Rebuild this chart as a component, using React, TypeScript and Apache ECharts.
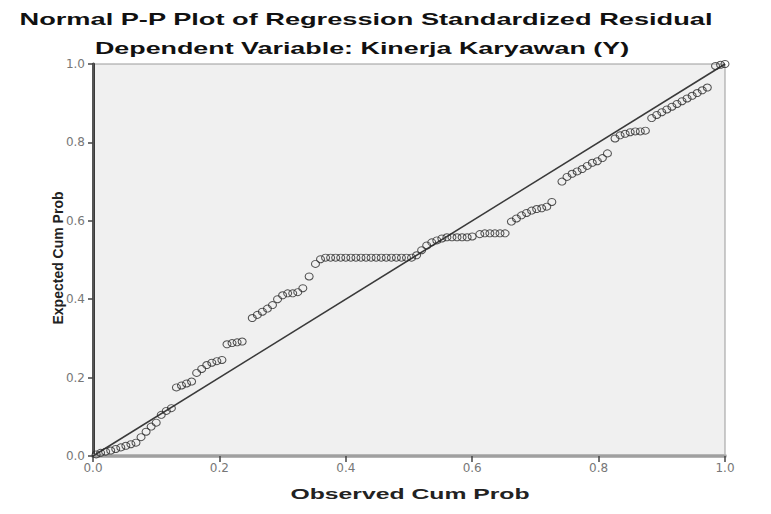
import React, { useEffect, useRef } from "react";
import * as echarts from "echarts";

const titleText = "Normal P-P Plot of Regression Standardized Residual";
const subtitleText = "Dependent Variable: Kinerja Karyawan (Y)";
const xAxisName = "Observed Cum Prob";
const yAxisName = "Expected Cum Prob";

const observedCumProb = [
  0.005, 0.012, 0.02, 0.028, 0.036, 0.044, 0.052, 0.06, 0.068,
  0.076, 0.084, 0.092, 0.1,
  0.108, 0.116, 0.124,
  0.132, 0.14, 0.148, 0.156,
  0.164, 0.172, 0.18, 0.188, 0.196, 0.204,
  0.212, 0.22, 0.228, 0.236,
  0.252, 0.26, 0.268, 0.276, 0.284,
  0.292, 0.3, 0.308, 0.316, 0.324, 0.332,
  0.342, 0.352, 0.36,
  0.368, 0.376, 0.384, 0.392, 0.4, 0.408, 0.416, 0.424, 0.432, 0.44, 0.448, 0.456, 0.464, 0.472, 0.48, 0.488, 0.496, 0.504,
  0.512, 0.52, 0.528, 0.536, 0.544, 0.552, 0.56, 0.568, 0.576, 0.584, 0.592, 0.6,
  0.612, 0.62, 0.628, 0.636, 0.644, 0.652,
  0.662, 0.67, 0.678, 0.686, 0.694, 0.702, 0.71, 0.718, 0.726,
  0.742, 0.75, 0.758, 0.766, 0.774, 0.782, 0.79, 0.798, 0.806, 0.814,
  0.826, 0.834, 0.842, 0.85, 0.858, 0.866, 0.874,
  0.884, 0.892, 0.9, 0.908, 0.916, 0.924, 0.932, 0.94, 0.948, 0.956, 0.964, 0.972,
  0.985, 0.993, 1.0,
];

const expectedCumProb = [
  0.004, 0.008, 0.011, 0.014, 0.018, 0.022, 0.026, 0.03, 0.034,
  0.048, 0.062, 0.075, 0.085,
  0.105, 0.115, 0.122,
  0.175, 0.18, 0.185, 0.19,
  0.212, 0.222, 0.232, 0.238, 0.242, 0.245,
  0.285, 0.288, 0.29, 0.292,
  0.352, 0.36, 0.368, 0.376, 0.385,
  0.4, 0.41, 0.415, 0.415, 0.418, 0.428,
  0.458, 0.49, 0.502,
  0.506, 0.506, 0.506, 0.506, 0.506, 0.506, 0.506, 0.506, 0.506, 0.506, 0.506, 0.506, 0.506, 0.506, 0.506, 0.506, 0.506, 0.506,
  0.512, 0.525, 0.537, 0.545, 0.55, 0.555, 0.558, 0.558, 0.558, 0.558, 0.558, 0.56,
  0.566, 0.568, 0.568, 0.568, 0.568, 0.568,
  0.598, 0.606, 0.614, 0.62, 0.626, 0.63, 0.632, 0.636, 0.648,
  0.7, 0.712, 0.72, 0.726, 0.732, 0.74, 0.748, 0.752, 0.76, 0.772,
  0.81, 0.818, 0.822, 0.826, 0.828, 0.828, 0.83,
  0.862, 0.87, 0.877, 0.884, 0.891, 0.898, 0.905, 0.912, 0.919, 0.926, 0.933, 0.94,
  0.995, 0.998, 1.0,
];

const referenceLine = [
  [0, 0],
  [1, 1],
];

export default function App() {
  const ref = useRef<HTMLDivElement>(null);

  useEffect(() => {
    if (!ref.current) return;
    const chart = echarts.init(ref.current, undefined, { renderer: "svg" });
    const points = observedCumProb.map((x, i) => [x, expectedCumProb[i]]);
    const font = '"Liberation Sans", Arial, sans-serif';
    chart.setOption({
      animation: false,
      backgroundColor: "#ffffff",
      grid: {
        left: 93,
        right: 46,
        top: 64,
        bottom: 58,
        show: true,
        backgroundColor: "#f0f0f0",
        borderColor: "#9a9a9a",
        borderWidth: 1,
      },
      graphic: [
        {
          type: "text",
          x: 366,
          y: 19,
          scaleX: 1.6,
          style: {
            text: titleText,
            font: `bold 17px ${font}`,
            fill: "#111",
            textAlign: "center",
            textVerticalAlign: "middle",
          },
        },
        {
          type: "text",
          x: 362,
          y: 48,
          scaleX: 1.58,
          style: {
            text: subtitleText,
            font: `bold 17px ${font}`,
            fill: "#111",
            textAlign: "center",
            textVerticalAlign: "middle",
          },
        },
        {
          type: "text",
          x: 410,
          y: 494,
          scaleX: 1.65,
          style: {
            text: xAxisName,
            font: `bold 15px ${font}`,
            fill: "#222",
            textAlign: "center",
            textVerticalAlign: "middle",
          },
        },
        {
          type: "text",
          x: 58,
          y: 258,
          rotation: Math.PI / 2,
          style: {
            text: yAxisName,
            font: `bold 14px ${font}`,
            fill: "#222",
            textAlign: "center",
            textVerticalAlign: "middle",
          },
        },
      ],
      xAxis: [
        {
          type: "value",
          min: 0,
          max: 1,
          interval: 0.2,
          position: "bottom",
          axisLine: { show: true, lineStyle: { color: "#b5b5b5", width: 4 } },
          axisTick: { show: true, length: 6, lineStyle: { color: "#444", width: 1.5 } },
          axisLabel: {
            color: "#777",
            fontSize: 12,
            fontFamily: "DejaVu Sans",
            margin: 6,
            formatter: (v: number) => v.toFixed(1),
          },
          splitLine: { show: false },
        },
        {
          type: "value",
          min: 0,
          max: 1,
          position: "top",
          axisLine: { show: true, lineStyle: { color: "#a0a0a0", width: 2 } },
          axisTick: { show: false },
          axisLabel: { show: false },
          splitLine: { show: false },
        },
      ],
      yAxis: [
        {
          type: "value",
          min: 0,
          max: 1,
          interval: 0.2,
          position: "left",
          axisLine: { show: true, lineStyle: { color: "#3a3a3a", width: 3 } },
          axisTick: { show: true, length: 5, lineStyle: { color: "#444", width: 1.5 } },
          axisLabel: {
            color: "#777",
            fontSize: 12,
            fontFamily: "DejaVu Sans",
            margin: 8,
            formatter: (v: number) => v.toFixed(1),
          },
          splitLine: { show: false },
        },
        {
          type: "value",
          min: 0,
          max: 1,
          position: "right",
          axisLine: { show: true, lineStyle: { color: "#555", width: 2 } },
          axisTick: { show: false },
          axisLabel: { show: false },
          splitLine: { show: false },
        },
      ],
      series: [
        {
          type: "line",
          data: referenceLine,
          showSymbol: false,
          symbol: "none",
          lineStyle: { color: "#3a3a3a", width: 1.6 },
          silent: true,
          z: 2,
        },
        {
          type: "scatter",
          data: points,
          symbol: "circle",
          symbolSize: [8, 7],
          itemStyle: { color: "rgba(0,0,0,0)", borderColor: "#2a2a2a", borderWidth: 1 },
          z: 3,
        },
      ],
    });
    return () => chart.dispose();
  }, []);

  return (
    <div
      ref={ref}
      style={{ position: "fixed", left: 0, top: 0, width: 771, height: 514 }}
    />
  );
}
